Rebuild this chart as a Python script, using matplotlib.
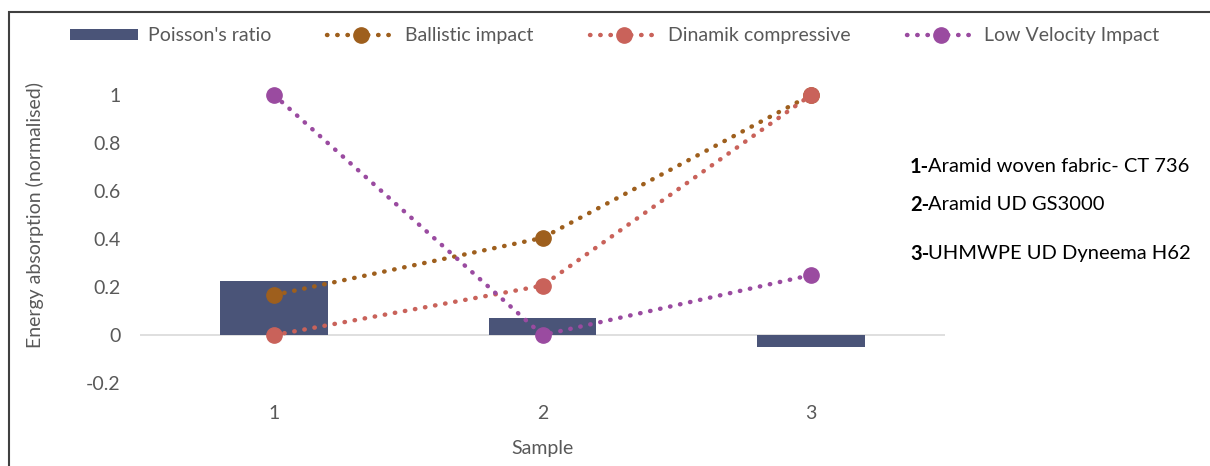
from matplotlib import pyplot as plt
from matplotlib.patches import Rectangle
from matplotlib.lines import Line2D
from matplotlib.patches import Patch

plt.rcParams['font.family'] = ['Lato', 'DejaVu Sans']

samples = [1, 2, 3]
poisson = [0.224, 0.072, -0.049]
ballistic = [0.167, 0.405, 1.0]
dinamik = [0.0, 0.206, 1.0]
low_velocity = [1.0, 0.0, 0.25]

series_labels = ["Ballistic impact", "Dinamik compressive", "Low Velocity Impact"]
notes = [("1-", "Aramid woven fabric- CT 736"),
         ("2-", "Aramid UD GS3000"),
         ("3-", "UHMWPE UD Dyneema H62")]

bar_color = '#4a5478'
line_colors = ['#9e5f1d', '#c9625a', '#9a4ba0']
grey = '#595959'
dots = (0, (0.1, 2.2))

fig = plt.figure(figsize=(12.1, 4.66), dpi=100)
ax = fig.add_axes([0.1157, 0.178, 0.6653, 0.721])

ax.bar(samples, poisson, width=0.4, color=bar_color, zorder=2)
ax.axhline(0, color='#d9d9d9', lw=1.2, zorder=1)

for vals, col in zip([ballistic, dinamik, low_velocity], line_colors):
    ax.plot(samples, vals, color=col, lw=3.2, linestyle=dots,
            dash_capstyle='round', marker='o', markersize=11, zorder=3)

ax.set_xlim(0.5, 3.5)
ax.set_ylim(-0.2, 1.2)
ax.set_yticks([-0.2, 0, 0.2, 0.4, 0.6, 0.8, 1])
ax.set_yticklabels(['-0.2', '0', '0.2', '0.4', '0.6', '0.8', '1'])
ax.set_xticks(samples)
for s in ax.spines.values():
    s.set_visible(False)
ax.tick_params(length=0, labelsize=14, labelcolor=grey, pad=14)
ax.tick_params(axis='x', pad=16)
ax.set_xlabel('Sample', fontsize=14, color=grey, labelpad=13)
ax.set_ylabel('Energy absorption (normalised)', fontsize=14, color=grey, labelpad=30)

handles = [Patch(facecolor=bar_color, label="Poisson's ratio")]
for lab, col in zip(series_labels, line_colors):
    handles.append(Line2D([0, 1], [0, 0], color=col, lw=3.2, linestyle=dots,
                          dash_capstyle='round', marker='o', markersize=11,
                          label=lab))
leg = fig.legend(handles=handles, loc='center', bbox_to_anchor=(0.508, 0.923),
                 ncol=4, frameon=False, fontsize=14, handlelength=3.5,
                 handleheight=0.5, columnspacing=2.9, handletextpad=0.5)
for t in leg.get_texts():
    t.set_color(grey)

y_pos = [0.642, 0.561, 0.456]
for (num, txt), y in zip(notes, y_pos):
    t1 = fig.text(0.752, y, num, fontsize=14.5, fontweight='bold', va='center')
    fig.canvas.draw()
    bb = t1.get_window_extent()
    fig.text((bb.x1 - 1) / fig.bbox.width, y, txt, fontsize=14.5, va='center')

fig.add_artist(Rectangle((9 / 1210, -0.1), 1.2, 1 - 12 / 466 + 0.1,
                         transform=fig.transFigure, fill=False,
                         edgecolor='#404040', lw=1.5))

fig.savefig('out.png', dpi=100)
plt.close('all')
